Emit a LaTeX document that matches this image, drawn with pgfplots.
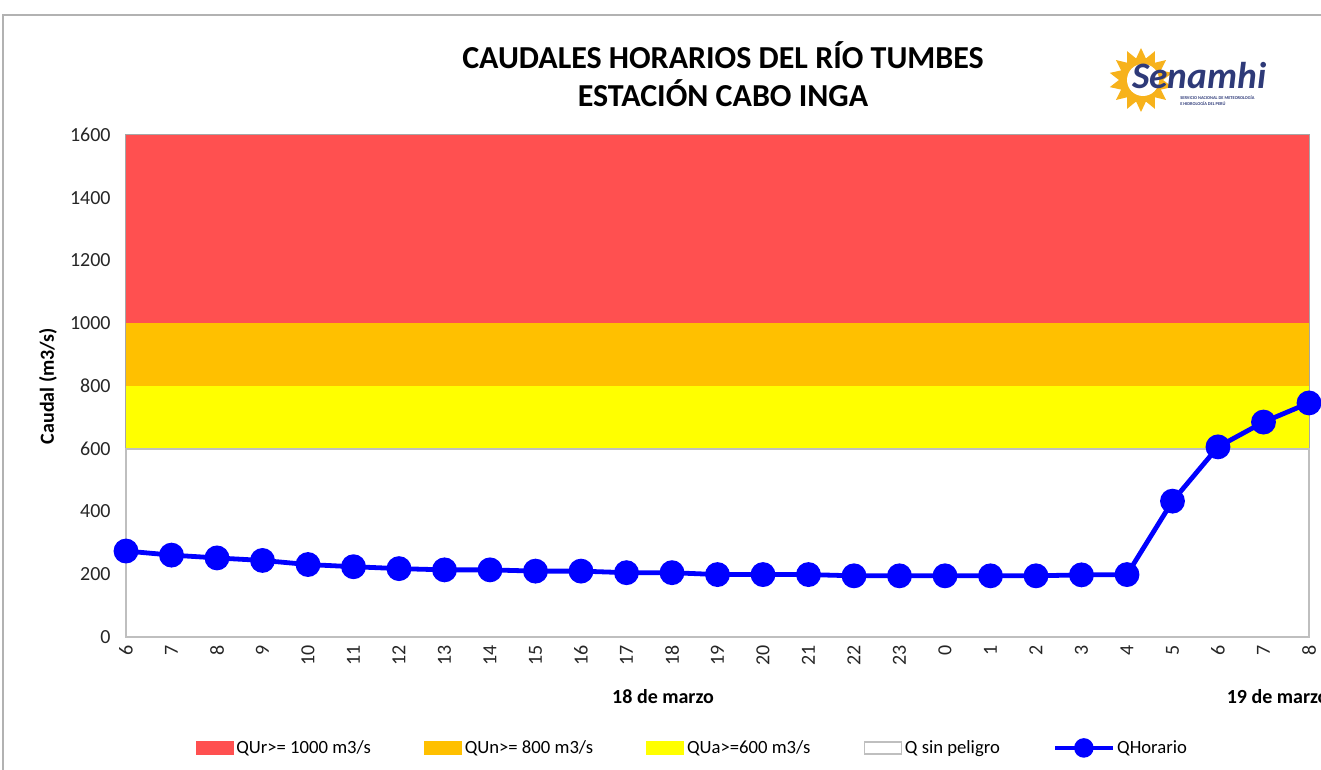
\documentclass[border=0pt]{standalone}
\usepackage{pgfplots}
\pgfplotsset{compat=1.18}
\usepackage{fontspec}
\setmainfont{Carlito}
\usetikzlibrary{shapes.geometric}
\definecolor{qred}{HTML}{FF5050}
\definecolor{qorange}{HTML}{FFC000}
\definecolor{qyellow}{HTML}{FFFF00}
\definecolor{qgray}{HTML}{BFBFBF}
\definecolor{sunc}{HTML}{F7B21B}
\definecolor{senblue}{HTML}{2E3A78}
\begin{document}
\begin{tikzpicture}[x=0.75pt,y=0.75pt]
\useasboundingbox (0,0) rectangle (1321,769);
\draw[color=gray!60, line width=1.5pt] (3,-20) -- (3,754) -- (1340,754);
\node[font=\fontsize{24}{28}\selectfont\bfseries] at (723,714) {CAUDALES HORARIOS DEL RÍO TUMBES};
\node[font=\fontsize{24}{28}\selectfont\bfseries] at (723,676) {ESTACIÓN CABO INGA};
% logo
\node[star, star points=14, star point ratio=1.45, fill=sunc, minimum size=48pt, inner sep=0pt] at (1141,689) {};
\fill[white] (1143,689) circle (16);
\node[font=\fontsize{28}{30}\selectfont\bfseries\itshape, text=senblue, anchor=west, inner sep=0pt] at (1132,693) {Senamhi};
\node[font=\fontsize{3.3}{3.9}\selectfont\bfseries, text=senblue, anchor=north west, inner sep=0pt, align=left] at (1180,673) {SERVICIO NACIONAL DE METEOROLOGÍA\\E HIDROLOGÍA DEL PERÚ};
\begin{axis}[
  at={(94.5pt,99pt)}, anchor=south west, scale only axis,
  width=887.25pt, height=376.5pt,
  xmin=0, xmax=26, ymin=0, ymax=1600,
  clip=false,
  axis line style={gray!70, line width=0.8pt},
  xtick={0,...,26},
  xticklabels={6,7,8,9,10,11,12,13,14,15,16,17,18,19,20,21,22,23,0,1,2,3,4,5,6,7,8},
  ytick={0,200,...,1600},
  major tick length=0pt,
  tick label style={font=\fontsize{15}{18}\selectfont, text=black!85},
  /pgf/number format/assume math mode=true,
  /pgf/number format/1000 sep={},
  xticklabel style={rotate=90, anchor=east},
  xticklabel shift=3pt,
  yticklabel shift=8pt,
  ylabel={Caudal (m3/s)},
  every axis y label/.style={at={(axis description cs:-0.066,0.5)}, rotate=90, anchor=center, font=\fontsize{15}{18}\selectfont\bfseries},
  legend columns=5,
  legend style={at={(axis description cs:0.479,-0.221)}, anchor=center, draw=none, fill=none,
    font=\fontsize{14}{17}\selectfont, /tikz/every even column/.append style={column sep=38pt}},
]
\addplot[fill=qred, draw=none, legend image code/.code={\fill[qred] (0pt,-5pt) rectangle (28.5pt,5pt);}]
  coordinates {(0,1000) (26,1000) (26,1600) (0,1600)} -- cycle;
\addlegendentry{QUr>= 1000 m3/s}
\addplot[fill=qorange, draw=none, legend image code/.code={\fill[qorange] (0pt,-5pt) rectangle (28.5pt,5pt);}]
  coordinates {(0,800) (26,800) (26,1000) (0,1000)} -- cycle;
\addlegendentry{QUn>= 800 m3/s}
\addplot[fill=qyellow, draw=none, legend image code/.code={\fill[qyellow] (0pt,-5pt) rectangle (28.5pt,5pt);}]
  coordinates {(0,600) (26,600) (26,800) (0,800)} -- cycle;
\addlegendentry{QUa>=600 m3/s}
\addplot[fill=white, draw=qgray, line width=1.2pt, legend image code/.code={\draw[fill=white, draw=qgray, line width=1pt] (0pt,-4.5pt) rectangle (28pt,4.5pt);}]
  coordinates {(0,0) (26,0) (26,600) (0,600)} -- cycle;
\addlegendentry{Q sin peligro}
\addplot[color=blue, line width=3.6pt, mark=*, mark size=7.5pt,
  legend image code/.code={\draw[blue, line width=3pt] (0pt,0pt) -- (43pt,0pt); \fill[blue] (21.5pt,0pt) circle (5.5pt);}]
  coordinates {
  (0,274) (1,261) (2,252) (3,244) (4,231) (5,224) (6,218) (7,214) (8,214)
  (9,210) (10,210) (11,205) (12,205) (13,199) (14,199) (15,199) (16,195)
  (17,195) (18,195) (19,195) (20,195) (21,198) (22,199) (23,433) (24,606)
  (25,685) (26,746)};
\addlegendentry{QHorario}
\node[font=\fontsize{15}{18}\selectfont\bfseries] at (axis description cs:0.454,-0.1195) {18 de marzo};
\node[font=\fontsize{15}{18}\selectfont\bfseries, anchor=west] at (axis description cs:0.9265,-0.1195) {19 de marzo};
\end{axis}
\end{tikzpicture}
\end{document}
